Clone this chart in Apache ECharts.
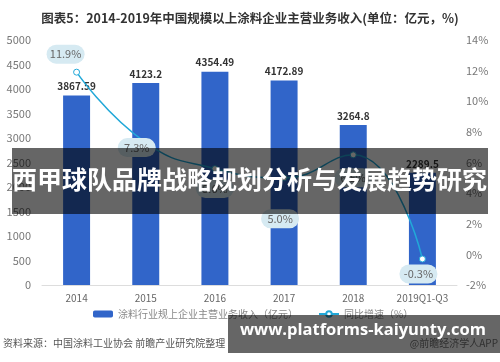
<!DOCTYPE html>
<html>
<head>
<meta charset="utf-8">
<script src="https://cdn.jsdelivr.net/npm/echarts@6/dist/echarts.min.js"></script>
<style>
html,body{margin:0;padding:0;background:#fff;}
#c{width:500px;height:362px;}
</style>
</head>
<body>
<div id="c"></div>
<script>
const categories = ['2014','2015','2016','2017','2018','2019Q1-Q3'];
const revenue = [3867.59, 4123.2, 4354.49, 4172.89, 3264.8, 2289.5];
const growth = [11.9, 7.3, 5.6, 5.0, 6.5, -0.3];
const leftTicks = [0, 5000, 500];
const rightTicks = [-2, 14, 2];
const titleText = '图表5：2014-2019年中国规模以上涂料企业主营业务收入(单位：亿元，%)';
const barName = '涂料行业规上企业主营业务收入（亿元）';
const lineName = '同比增速（%）';
const sourceText = '资料来源：中国涂料工业协会 前瞻产业研究院整理';
const brandText = '@前瞻经济学人APP';
const bannerText = '西甲球队品牌战略规划分析与发展趋势研究';
const urlText = 'www.platforms-kaiyunty.com';

// label placement styling (not data)
const lblStyle = [
  {position:'top', distance:5, offset:[-11,0]},
  {position:'inside', offset:[-9,5]},
  {position:'bottom', distance:7, offset:[0,0]},
  {position:'bottom', distance:28, offset:[-4,0]},
  {position:'bottom', distance:10, offset:[0,0]},
  {position:'bottom', distance:2, offset:[-4,0]}
];

const font = '"Noto Sans CJK SC", "Noto Sans", sans-serif';
const chart = echarts.init(document.getElementById('c'), null, {renderer:'canvas'});
chart.setOption({
  animation:false,
  textStyle:{fontFamily:font},
  title:{
    text:titleText, left:'center', top:7,
    textStyle:{fontSize:12.5, fontWeight:'bold', color:'#333', fontFamily:font}
  },
  grid:{left:42, right:43, top:40, bottom:77},
  legend:{
    bottom:38, left:88, itemGap:20,
    itemWidth:20, itemHeight:7,
    textStyle:{fontSize:10, color:'#888'},
    data:[barName, lineName]
  },
  xAxis:{
    type:'category', data:categories,
    axisLine:{lineStyle:{color:'#ddd', width:1}},
    axisTick:{show:false},
    axisLabel:{color:'#666', fontSize:10, margin:8}
  },
  yAxis:[
    {type:'value', min:leftTicks[0], max:leftTicks[1], interval:leftTicks[2],
     axisLine:{show:false}, axisTick:{show:false}, splitLine:{show:false},
     axisLabel:{color:'#777', fontSize:11, margin:11, formatter:v=>String(v)}},
    {type:'value', min:rightTicks[0], max:rightTicks[1], interval:rightTicks[2],
     axisLine:{show:false}, axisTick:{show:false}, splitLine:{show:false},
     axisLabel:{color:'#777', fontSize:11, margin:9, formatter:'{value}%'}}
  ],
  series:[
    {
      name:barName, type:'bar', data:revenue, barWidth:'39%',
      itemStyle:{color:'#3165c9'},
      label:{show:true, position:'top', distance:4, color:'#333', fontSize:10, fontWeight:'bold'}
    },
    {
      name:lineName, type:'line', yAxisIndex:1, smooth:true,
      data:growth.map((v,i)=>({value:v, label:lblStyle[i]})),
      symbol:'circle', symbolSize:6,
      lineStyle:{color:'#22a8d8', width:1.5},
      itemStyle:{color:'#fff', borderColor:'#22a8d8', borderWidth:1},
      label:{show:true, formatter:p=>Number(p.value).toFixed(1)+'%', color:'#666', fontSize:11,
        backgroundColor:'#d6eaf2', borderRadius:11, padding:[4,6], width:26, align:'center'},
      z:5
    }
  ],
  graphic:[
    {type:'text', right:2, top:338, z:10,
     style:{text:brandText, fill:'#777', fontSize:10, fontFamily:font}},
    {type:'text', left:3, top:338, z:10,
     style:{text:sourceText, fill:'#555', fontSize:10, fontFamily:font}},
    {type:'rect', left:228, top:315, z:100,
     shape:{width:272, height:38}, style:{fill:'rgba(0,0,0,0.6)'}},
    {type:'text', left:240, top:322, z:101,
     style:{text:urlText, fill:'#fff', fontSize:16.5, fontWeight:'bold', fontFamily:'"Open Sans", "DejaVu Sans", sans-serif'}},
    {type:'rect', left:12, top:148, z:100,
     shape:{width:476, height:66}, style:{fill:'rgba(0,0,0,0.6)'}},
    {type:'text', left:12, top:167, z:101,
     style:{text:bannerText, fill:'#fff', fontSize:25, fontWeight:'bold', fontFamily:font}}
  ]
});
</script>
</body>
</html>
